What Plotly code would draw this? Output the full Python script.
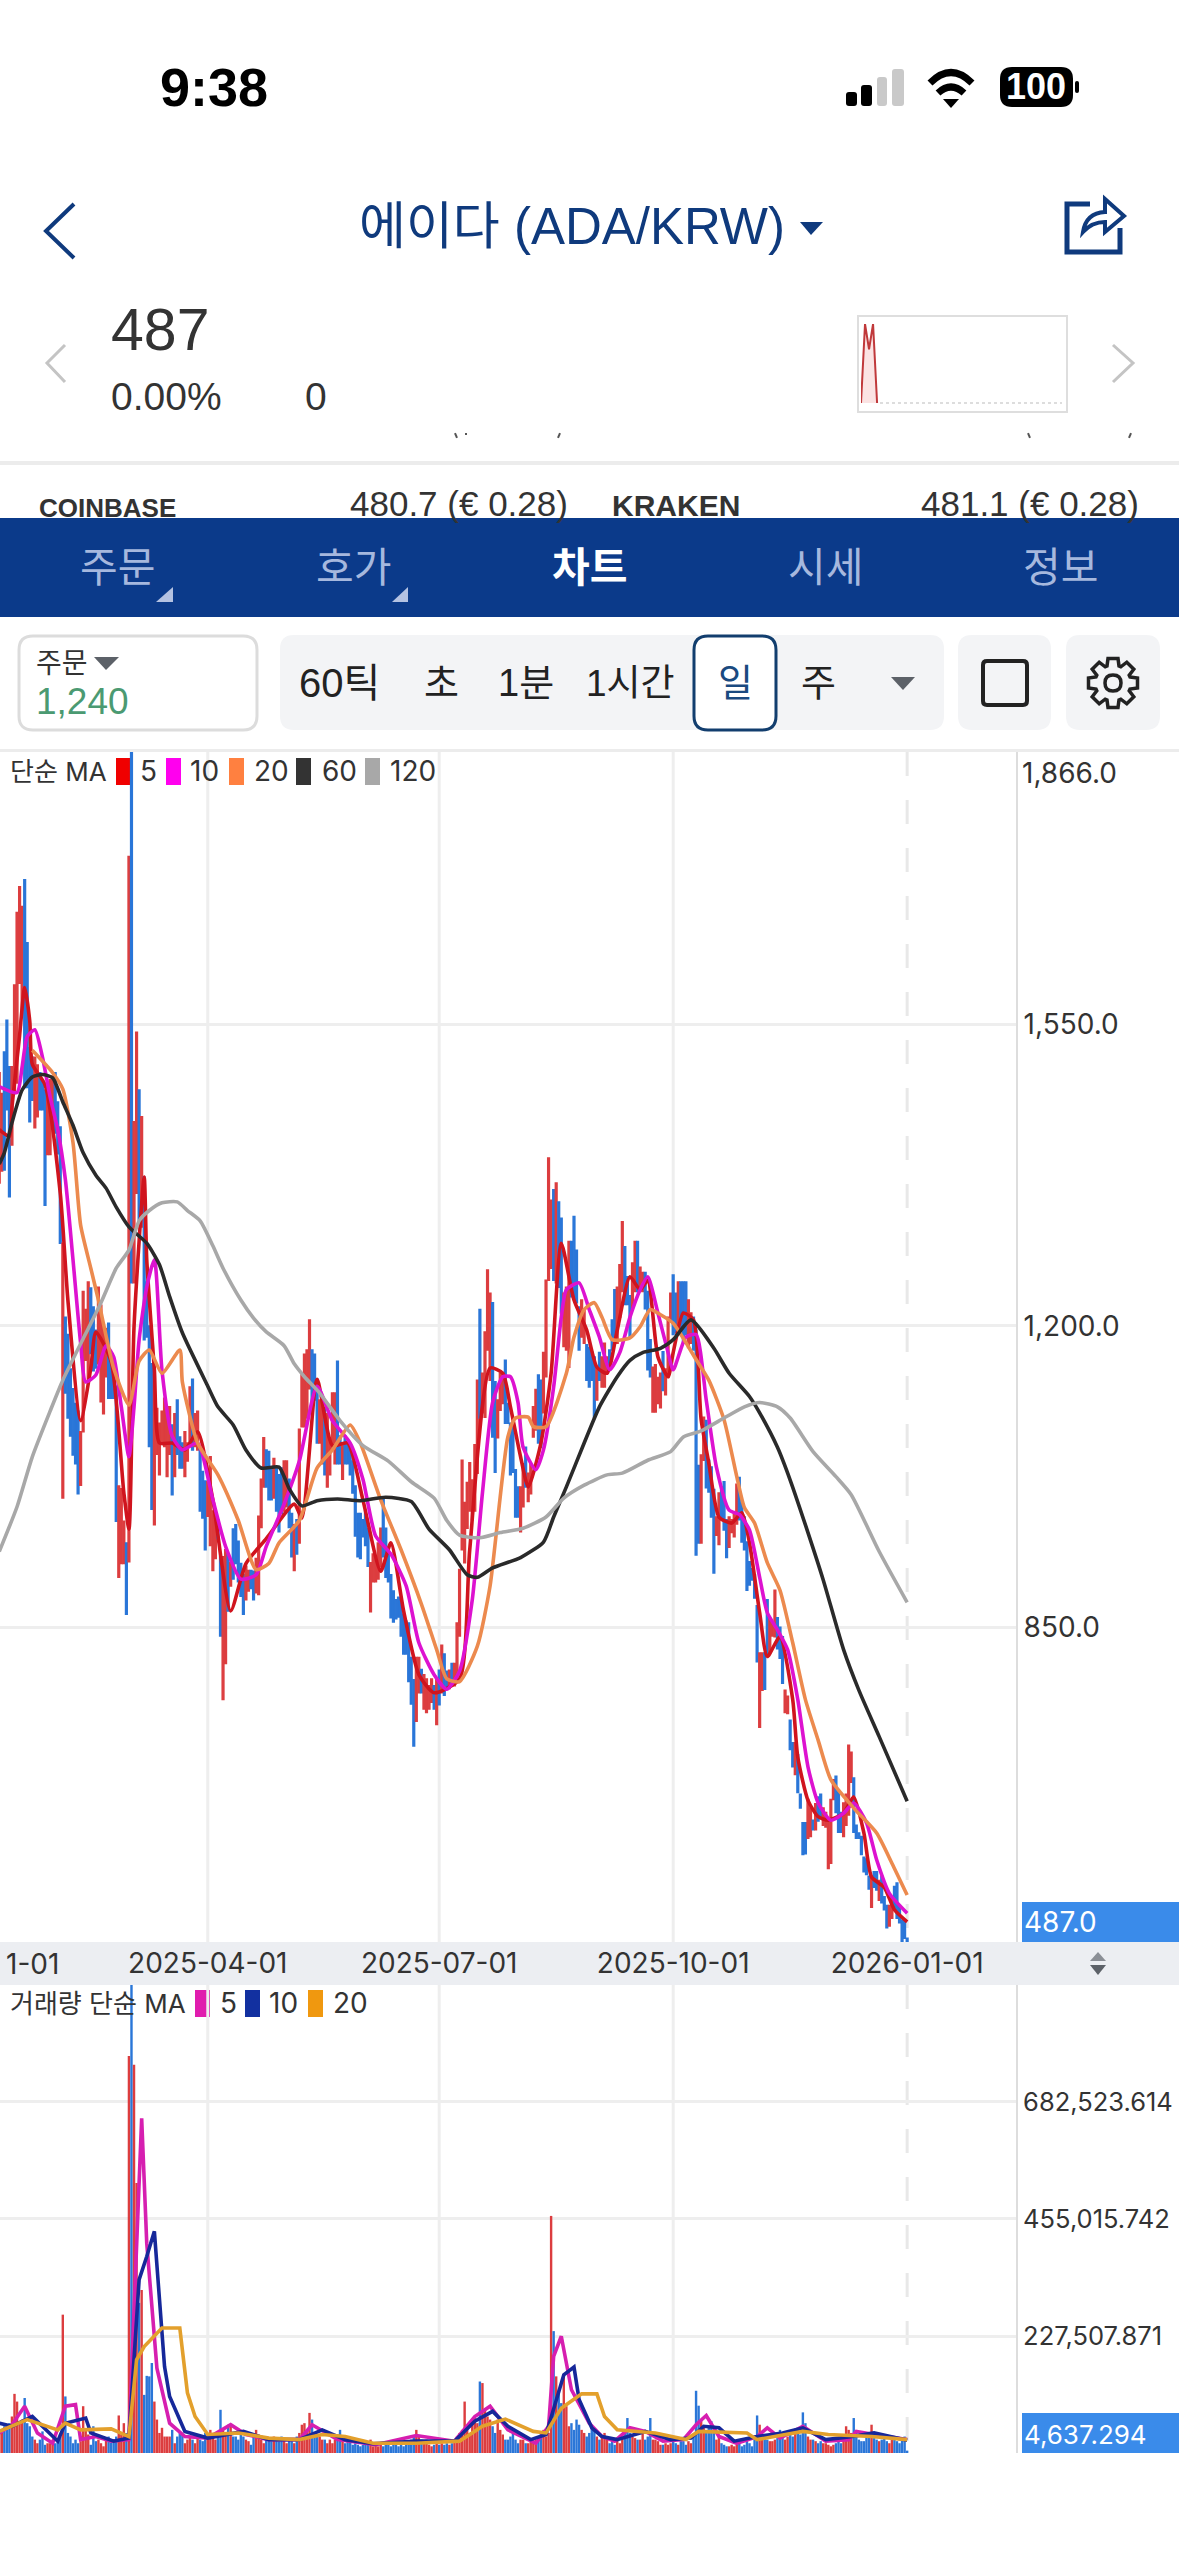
import math
import re

import numpy as np
import pandas as pd
import plotly.graph_objects as go

W, H = 1179, 2556

# Daily bars, 2025-01-09 to 2026-01-01 (one row = 10 days)
highs = [
    1494, 1470, 1518, 1555, 1501, 1501, 1596, 1680, 1710, 1687,
    1718, 1645, 1523, 1512, 1512, 1503, 1494, 1486, 1474, 1470,
    1486, 1490, 1494, 1460, 1431, 1296, 1210, 1190, 1150, 1127,
    1110, 1101, 1077, 1240, 1219, 1251, 1244, 1222, 1195, 1245,
    1224, 1199, 1197, 1203, 1159, 1156, 1130, 1014, 1011, 973,
    948, 1745, 1868, 1437, 1541, 1474, 1443, 1373, 1251, 1200,
    1156, 1143, 1104, 1087, 1101, 1116, 1098, 1106, 1085, 1098,
    1114, 1071, 1064, 1077, 1064, 1129, 1138, 1098, 1101, 1060,
    1031, 1020, 1019, 1048, 985, 982, 975, 932, 932, 940,
    935, 925, 964, 969, 950, 924, 911, 921, 916, 916,
    915, 930, 979, 1022, 1070, 1056, 1054, 1035, 1046, 1035,
    1027, 1035, 1043, 1043, 1022, 982, 969, 975, 1080, 1143,
    1167, 1172, 1207, 1172, 1167, 1138, 1114, 1110, 1105, 1098,
    1064, 1122, 1122, 1159, 1072, 1064, 1072, 1064, 1056, 1043,
    1014, 982, 982, 975, 985, 965, 925, 935, 930, 948,
    965, 1000, 965, 940, 911, 892, 882, 885, 882, 865,
    857, 855, 815, 789, 815, 815, 801, 795, 790, 782,
    790, 782, 790, 800, 829, 819, 799, 800, 808, 808,
    855, 917, 1044, 995, 1018, 1041, 1021, 1062, 1137, 1219,
    1145, 1193, 1265, 1238, 1227, 1135, 1114, 1145, 1145, 1160,
    1110, 1087, 1083, 1033, 1013, 1013, 1040, 1059, 1029, 1040,
    1106, 1126, 1143, 1137, 1169, 1253, 1395, 1346, 1358, 1366,
    1344, 1325, 1238, 1245, 1298, 1298, 1327, 1288, 1222, 1230,
    1220, 1178, 1175, 1170, 1164, 1150, 1169, 1164, 1180, 1164,
    1172, 1207, 1242, 1245, 1271, 1321, 1292, 1257, 1235, 1273,
    1298, 1298, 1268, 1262, 1262, 1240, 1184, 1152, 1155, 1140,
    1145, 1170, 1150, 1210, 1238, 1259, 1238, 1251, 1251, 1251,
    1251, 1230, 1215, 1210, 1195, 1038, 1050, 1094, 1090, 1044,
    1036, 1010, 978, 1006, 1013, 1019, 975, 978, 975, 984,
    1016, 1024, 994, 978, 949, 926, 918, 911, 875, 820,
    820, 820, 882, 860, 855, 893, 861, 850, 839, 777,
    770, 742, 716, 716, 702, 656, 623, 623, 650, 640,
    626, 645, 653, 656, 640, 635, 626, 650, 673, 677,
    659, 635, 646, 656, 713, 705, 675, 620, 611, 607,
    583, 581, 561, 561, 566, 566, 556, 561, 537, 527,
    527, 537, 549, 553, 527, 510, 510, 489,
]
lows = [
    1366, 1380, 1381, 1451, 1350, 1410, 1470, 1482, 1598, 1567,
    1477, 1477, 1437, 1462, 1430, 1443, 1451, 1451, 1340, 1399,
    1399, 1435, 1424, 1400, 1296, 1000, 1122, 1093, 1072, 1050,
    1040, 1005, 1015, 1077, 1160, 1135, 1168, 1148, 1151, 1156,
    1112, 1098, 1141, 1116, 1116, 1116, 973, 908, 924, 924,
    865, 926, 1250, 1250, 1354, 1323, 1315, 1184, 1187, 1060,
    987, 969, 1051, 1027, 1064, 1060, 1025, 1051, 1004, 1025,
    1051, 1035, 1035, 1025, 1043, 1064, 1056, 1060, 1056, 985,
    977, 940, 979, 945, 916, 930, 953, 840, 766, 808,
    869, 898, 906, 924, 903, 886, 865, 882, 892, 895,
    882, 890, 888, 966, 1013, 1013, 998, 998, 1000, 985,
    961, 982, 985, 990, 966, 932, 916, 935, 948, 1083,
    1083, 1093, 1127, 1098, 1114, 1064, 1064, 1040, 1027, 1013,
    1027, 1056, 1040, 1040, 1040, 1022, 1040, 1040, 1027, 1006,
    956, 932, 930, 955, 945, 921, 868, 903, 903, 906,
    920, 932, 908, 903, 861, 856, 860, 862, 840, 819,
    819, 787, 761, 712, 741, 774, 774, 755, 751, 755,
    763, 755, 737, 760, 774, 771, 779, 779, 785, 782,
    787, 840, 940, 925, 965, 985, 975, 985, 1029, 1093,
    1099, 1094, 1172, 1137, 1071, 1030, 1070, 1102, 1110, 1087,
    1087, 1027, 1030, 978, 978, 961, 990, 1013, 996, 1005,
    1071, 1079, 1064, 1059, 1099, 1141, 1253, 1267, 1253, 1250,
    1245, 1215, 1176, 1172, 1152, 1234, 1234, 1227, 1172, 1187,
    1180, 1137, 1129, 1137, 1094, 1114, 1137, 1129, 1129, 1145,
    1149, 1172, 1187, 1180, 1210, 1240, 1225, 1225, 1187, 1220,
    1240, 1240, 1245, 1240, 1220, 1149, 1141, 1100, 1100, 1110,
    1105, 1125, 1120, 1140, 1207, 1190, 1192, 1190, 1195, 1180,
    1190, 1175, 1180, 1172, 934, 948, 948, 1044, 1012, 1007,
    978, 913, 957, 946, 977, 963, 931, 943, 960, 955,
    970, 975, 949, 940, 893, 899, 905, 884, 810, 734,
    777, 778, 818, 820, 840, 839, 825, 814, 785, 751,
    750, 708, 688, 679, 658, 640, 586, 587, 605, 607,
    615, 615, 625, 630, 620, 618, 570, 576, 650, 635,
    612, 612, 607, 620, 632, 670, 612, 605, 605, 586,
    566, 563, 546, 525, 548, 545, 533, 530, 522, 501,
    503, 512, 524, 512, 507, 485, 489, 485,
]
# R = rising (red), B = falling (blue)
bar_dirs = (
    "RRBBBRRRRR" "BBBBRRBBBR" "RRBBBRBBBB" "BBRRRRBBBR" "RRRBBBBRRR"
    "BRBRRBRBBB" "BRRRRRRRBR" "BBBRRRBRRB" "BBRRRRBBRR" "BRBBBBBRRB"
    "BRRRRBBBRB" "BBRRBBRBRR" "RRRBBBRRBR" "RRRBBRBBBB" "BBBBBBRRRR"
    "RBBBBBBBBB" "BBBBRRBRRR" "RBRBRBBRBR" "RRRRRRRRRB" "RRRRBBRRRB"
    "BBBBBRRBRR" "RRBBRRRRBR" "BBRRRBBBBR" "RBBBBRBRRR" "BBBRRRBBBR"
    "RBRRBBBRRR" "RBRRRBBRBB" "BRRBBBRRBB" "BBRRBBBRRR" "RBBBBBBBBR"
    "RBBRRRBBBR" "RBBRBBBBRR" "BRBBRRRRRB" "BBRRRRBBBB" "BBBRBBRBBB"
    "RRBBBBBB"
)
# volume in thousands, same days as the bars
vol_k = [
    45, 39, 52, 45, 58, 71, 115, 100, 58, 65,
    107, 58, 52, 32, 26, 19, 26, 42, 16, 19,
    19, 26, 19, 23, 32, 269, 110, 39, 32, 19,
    26, 19, 23, 91, 45, 36, 16, 52, 23, 26,
    19, 13, 26, 32, 20, 26, 32, 73, 36, 58,
    39, 772, 1150, 755, 525, 292, 317, 113, 150, 149,
    175, 100, 65, 39, 49, 32, 32, 32, 45, 19,
    32, 39, 36, 19, 26, 32, 26, 19, 32, 26,
    23, 39, 26, 45, 32, 26, 39, 84, 45, 39,
    55, 52, 32, 32, 26, 39, 32, 26, 23, 16,
    32, 45, 36, 26, 19, 32, 26, 23, 32, 26,
    23, 32, 26, 19, 26, 23, 19, 32, 39, 55,
    58, 45, 78, 65, 36, 32, 32, 26, 26, 19,
    26, 19, 26, 36, 45, 32, 19, 26, 23, 16,
    19, 16, 13, 16, 16, 19, 26, 13, 16, 13,
    16, 13, 16, 16, 13, 19, 16, 13, 16, 13,
    16, 19, 26, 32, 45, 32, 26, 19, 26, 16,
    13, 16, 19, 16, 19, 16, 19, 16, 19, 26,
    32, 39, 45, 100, 52, 39, 65, 71, 58, 139,
    136, 84, 71, 65, 52, 39, 65, 45, 36, 26,
    26, 32, 39, 26, 19, 26, 26, 19, 19, 23,
    23, 26, 26, 39, 45, 32, 39, 461, 237, 149,
    123, 97, 149, 91, 52, 58, 45, 65, 55, 45,
    39, 32, 39, 52, 45, 32, 26, 32, 39, 26,
    19, 23, 16, 26, 19, 26, 39, 68, 39, 32,
    29, 26, 26, 39, 26, 32, 68, 26, 26, 23,
    16, 16, 19, 16, 19, 26, 19, 16, 23, 23,
    16, 23, 19, 32, 121, 92, 65, 52, 39, 52,
    62, 39, 26, 32, 19, 16, 13, 13, 16, 13,
    16, 19, 13, 16, 26, 19, 13, 26, 73, 55,
    32, 29, 26, 23, 23, 26, 29, 45, 32, 26,
    32, 42, 32, 42, 45, 36, 79, 58, 32, 26,
    26, 23, 19, 23, 19, 19, 16, 13, 16, 19,
    26, 19, 29, 52, 45, 39, 68, 39, 26, 23,
    23, 32, 39, 55, 29, 26, 23, 26, 29, 23,
    19, 26, 29, 23, 19, 26, 32, 4.637,
]

# Moving averages: day number since 2025-01-09, value
ma5_days = [0, 4, 5, 8, 10, 12, 13, 18, 24, 27, 32, 36, 38, 44, 49, 51, 53, 57, 58, 61, 63, 68, 73, 78, 84,
            91, 97, 105, 116, 119, 125, 131, 137, 143, 150, 154, 159, 165, 171, 181, 185, 193, 198, 201,
            205, 208, 213, 217, 221, 226, 231, 235, 239, 243, 248, 252, 255, 259, 263, 265, 269, 273, 276,
            279, 283, 288, 292, 295, 299, 302, 307, 312, 314, 318, 322, 326, 332, 336, 340, 343, 348, 352, 357]
ma5_vals = [1428, 1420, 1454, 1537, 1593, 1554, 1504, 1480, 1354, 1230, 1090, 1151, 1193, 1159, 1006, 964, 1199, 1373, 1277, 1149, 1064, 1064, 1056, 1077, 998,
            869, 924, 953, 993, 977, 1138, 1061, 1064, 998, 915, 948, 869, 795, 774, 790, 940, 1151, 1145, 1106,
            1048, 1013, 1064, 1145, 1296, 1230, 1195, 1152, 1145, 1195, 1257, 1242, 1253, 1164, 1141, 1169, 1215, 1207, 1091,
            1041, 978, 971, 983, 948, 867, 816, 839, 766, 699, 649, 630, 626, 634, 653, 611, 560, 548, 522, 508]
ma10_days = [0, 7, 9, 11, 14, 17, 20, 23, 26, 29, 32, 34, 38, 42, 45, 48, 51, 53, 55, 58, 61, 64, 68, 72, 78, 84,
             89, 95, 101, 105, 112, 118, 125, 131, 138, 143, 148, 154, 160, 165, 171, 176, 181, 186, 190, 194,
             198, 201, 204, 206, 211, 214, 218, 221, 223, 228, 232, 236, 240, 244, 248, 252, 255, 259, 263, 265,
             270, 274, 278, 282, 287, 291, 295, 299, 302, 306, 310, 314, 318, 322, 327, 332, 336, 341, 345, 350, 357]
ma10_vals = [1478, 1471, 1501, 1536, 1544, 1512, 1466, 1428, 1370, 1277, 1180, 1135, 1143, 1177, 1164, 1106, 1048, 1106, 1184, 1245, 1277, 1148, 1072, 1056, 1064, 998,
             944, 906, 911, 944, 993, 1043, 1130, 1090, 1064, 1022, 956, 935, 898, 832, 795, 778, 799, 882, 1006, 1111,
             1141, 1141, 1111, 1059, 1033, 1056, 1129, 1210, 1242, 1250, 1219, 1187, 1149, 1169, 1210, 1242, 1257, 1215, 1169, 1149,
             1187, 1190, 1114, 1036, 986, 981, 963, 908, 867, 847, 824, 766, 688, 646, 626, 634, 646, 623, 580, 541, 518]
ma20_days = [13, 21, 25, 29, 32, 36, 39, 45, 51, 55, 59, 64, 71, 72, 78, 86, 94, 101, 106, 110, 118, 125, 131, 138, 142,
             150, 158, 166, 172, 176, 181, 188, 193, 200, 203, 208, 210, 215, 223, 226, 230, 234, 237, 241, 248, 252,
             256, 260, 265, 274, 279, 285, 290, 293, 297, 302, 307, 312, 317, 322, 327, 336, 345, 351, 357]
ma20_vals = [1520, 1494, 1475, 1413, 1317, 1267, 1230, 1151, 1108, 1159, 1172, 1145, 1172, 1135, 1064, 1027, 974, 917, 924, 948, 974, 1035, 1056, 1085, 1064,
             998, 940, 877, 824, 790, 787, 828, 898, 1071, 1093, 1094, 1083, 1083, 1145, 1187, 1219, 1227, 1210, 1184, 1186, 1199,
             1219, 1213, 1203, 1161, 1137, 1091, 1025, 989, 971, 925, 893, 832, 766, 719, 673, 640, 611, 576, 539]
ma60_days = [0, 2, 5, 9, 13, 17, 21, 25, 29, 33, 38, 42, 46, 51, 58, 63, 67, 72, 82, 86, 92, 97, 103, 110, 114, 119,
             125, 133, 142, 152, 162, 169, 177, 184, 188, 194, 205, 214, 218, 223, 230, 236, 243, 248, 253, 260,
             265, 272, 281, 287, 295, 299, 306, 311, 318, 324, 332, 338, 346, 357]
ma60_vals = [1388, 1401, 1436, 1474, 1489, 1492, 1488, 1460, 1433, 1401, 1375, 1360, 1338, 1315, 1296, 1271, 1234, 1192, 1130, 1106, 1085, 1056, 1035, 1036, 1011, 991,
             997, 999, 997, 1001, 996, 964, 940, 911, 908, 919, 931, 949, 978, 1013, 1064, 1106, 1141, 1160, 1169, 1174,
             1184, 1207, 1174, 1145, 1118, 1099, 1059, 1021, 960, 905, 824, 777, 723, 648]
ma120_days = [0, 7, 13, 20, 25, 40, 46, 51, 55, 59, 64, 70, 74, 79, 84, 88, 95, 100, 105, 112, 116, 120, 126, 134, 143,
              153, 162, 171, 176, 181, 189, 197, 206, 215, 222, 230, 239, 245, 255, 264, 269, 276, 285, 293, 299,
              306, 311, 320, 329, 335, 346, 357]
ma120_vals = [938, 990, 1048, 1101, 1137, 1227, 1267, 1288, 1322, 1334, 1343, 1344, 1334, 1322, 1293, 1267, 1230, 1209, 1193, 1177, 1156, 1141, 1122, 1090, 1061,
              1043, 1019, 1000, 974, 957, 954, 960, 965, 978, 1000, 1015, 1027, 1029, 1044, 1054, 1071, 1078, 1093, 1106, 1111,
              1106, 1093, 1054, 1025, 1004, 938, 879]

# Volume moving averages, in thousands
vma5_days = [0, 5, 10, 15, 21, 26, 30, 32, 38, 44, 51, 56, 58, 62, 67, 73, 82, 91, 97, 106, 118, 123, 133, 148, 164,
             179, 187, 193, 200, 211, 216, 218, 221, 225, 232, 237, 242, 248, 254, 261, 269, 274, 278, 283, 290,
             298, 302, 307, 316, 325, 334, 337, 344, 357]
vma5_vals = [39, 55, 91, 39, 19, 91, 94, 26, 32, 23, 26, 651, 408, 165, 58, 32, 29, 55, 36, 26, 26, 55, 26, 16, 34,
             23, 71, 91, 45, 19, 52, 188, 227, 123, 58, 32, 23, 49, 42, 23, 26, 55, 73, 32, 19,
             32, 49, 29, 52, 23, 26, 42, 36, 26]
vma10_days = [0, 5, 13, 23, 26, 34, 36, 45, 51, 55, 58, 61, 65, 67, 73, 82, 96, 106, 118, 127, 136, 147, 164, 179, 187,
              194, 200, 209, 215, 218, 222, 226, 228, 233, 237, 243, 254, 264, 272, 277, 283, 289, 298, 308, 316,
              325, 334, 344, 357]
vma10_vals = [58, 52, 71, 23, 58, 68, 39, 23, 29, 337, 382, 431, 168, 110, 42, 29, 42, 26, 26, 45, 26, 18, 23, 23, 62,
              81, 52, 26, 36, 84, 152, 167, 104, 49, 32, 26, 42, 26, 29, 52, 49, 23, 32, 39, 49,
              26, 31, 39, 25]
vma20_days = [0, 11, 23, 26, 32, 44, 51, 54, 57, 64, 71, 74, 77, 82, 94, 106, 118, 127, 136, 147, 164, 181, 190, 199,
              210, 215, 221, 229, 235, 238, 243, 258, 270, 275, 294, 298, 316, 326, 343, 357]
vma20_vals = [42, 65, 45, 58, 45, 47, 32, 181, 207, 243, 243, 117, 71, 36, 39, 29, 26, 36, 32, 19, 19, 23, 52, 66,
              42, 39, 87, 115, 115, 71, 45, 39, 26, 42, 39, 26, 42, 36, 32, 26]

price_ticks = [1550, 1200, 850]
price_tick_labels = ["1,550.0", "1,200.0", "850.0"]
volume_ticks = [227507.871, 455015.742, 682523.614]
volume_tick_labels = ["227,507.871", "455,015.742", "682,523.614"]
date_ticks = ["2025-04-01", "2025-07-01", "2025-10-01", "2026-01-01"]

dates = pd.date_range("2025-01-09", periods=len(highs), freq="D")
opens = [lo if d == "R" else hi for hi, lo, d in zip(highs, lows, bar_dirs)]
closes = [hi if d == "R" else lo for hi, lo, d in zip(highs, lows, bar_dirs)]
volumes = np.array(vol_k) * 1000
RED, BLUE = "#dc3d3f", "#2a76d8"
NAVY = "#0f3a7d"
CHART_FONT = "Inter, Noto Sans CJK KR"
UI_FONT = "Liberation Sans, Noto Sans CJK KR"


def py(y):
    return 1 - y / H


shapes = []
notes = []


def to_paper(cmds):
    # path written in screen pixels -> paper coordinates
    out, is_x = [], True
    for tok in re.findall(r"[A-Za-z]|-?[\d.]+", cmds):
        if tok.isalpha():
            out.append(tok)
            is_x = True
        else:
            out.append(f"{float(tok) / W:.5f}" if is_x else f"{py(float(tok)):.5f}")
            is_x = not is_x
    return " ".join(out)


def draw(cmds, fill=None, color=None, lw=0, layer="above", dash=None):
    shapes.append(dict(type="path", path=to_paper(cmds), xref="paper", yref="paper", layer=layer,
                       fillcolor=fill or "rgba(0,0,0,0)",
                       line=dict(color=color or "rgba(0,0,0,0)", width=lw, dash=dash)))


def box(x0, y0, x1, y1, fill=None, color=None, lw=0, r=0, layer="above"):
    if r:
        draw(f"M {x0 + r} {y0} L {x1 - r} {y0} Q {x1} {y0} {x1} {y0 + r} L {x1} {y1 - r} Q {x1} {y1} {x1 - r} {y1} "
             f"L {x0 + r} {y1} Q {x0} {y1} {x0} {y1 - r} L {x0} {y0 + r} Q {x0} {y0} {x0 + r} {y0} Z",
             fill, color, lw, layer)
    else:
        draw(f"M {x0} {y0} L {x1} {y0} L {x1} {y1} L {x0} {y1} Z", fill, color, lw, layer)


def text(x, y, s, size, color="#333333", anchor="left", font=UI_FONT):
    notes.append(dict(x=x / W, y=py(y), xref="paper", yref="paper", text=s, showarrow=False,
                      xanchor=anchor, yanchor="middle", font=dict(size=size, color=color, family=font),
                      borderpad=0, borderwidth=0))


# status bar
text(160, 87, "<b>9:38</b>", 54, "#000000")
box(846, 92, 857, 106, "#000000", r=3)
box(861, 85, 872, 106, "#000000", r=3)
box(877, 77, 887, 106, "#c9c9c9", r=3)
box(892, 69, 904, 106, "#c9c9c9", r=3)
draw("M 930 83 Q 951 62 972 83", color="#000000", lw=7)
draw("M 938 93 Q 951 81 964 93", color="#000000", lw=7)
draw("M 943 99 L 959 99 L 951 108 Z", fill="#000000")
box(1000, 67, 1073, 107, "#000000", r=12)
box(1075, 81, 1079, 93, "#000000", r=2)
text(1036, 87, "<b>100</b>", 36, "#ffffff", "center")

# title row
draw("M 74 204 L 46 231 L 74 258", color=NAVY, lw=4)
text(359, 226, "에이다 (ADA/KRW)", 51, NAVY)
draw("M 800 222 L 823 222 L 811 235 Z", fill=NAVY)
draw("M 1090 204 L 1067 204 L 1067 252 L 1120 252 L 1120 228", color=NAVY, lw=5)
draw("M 1083 232 Q 1086 213 1105 212 L 1105 199 L 1124 216 L 1105 232 L 1105 222 Q 1092 222 1083 232 Z", color=NAVY, lw=4)

# quote row
draw("M 65 345 L 47 363 L 65 382", color="#c4c4c4", lw=3)
draw("M 1113 345 L 1133 363 L 1113 382", color="#c4c4c4", lw=3)
text(111, 330, "487", 59)
text(111, 396, "0.00%", 39)
text(305, 396, "0", 39)
box(858, 316, 1067, 412, "#ffffff", "#dedede", 2, layer="below")
draw("M 880 403 L 1062 403", color="#dddddd", lw=2, dash="dot")
for mark in ["M 455 433 L 457 438", "M 466 433 L 466 435", "M 560 433 L 558 438", "M 1028 433 L 1030 438", "M 1131 433 L 1129 438"]:
    draw(mark, color="#555555", lw=2)
box(0, 461, W, 465, "#ececec")
text(39, 508, "<b>COINBASE</b>", 26)
text(568, 503, "480.7 (€ 0.28)", 35, anchor="right")
text(612, 506, "<b>KRAKEN</b>", 30)
text(1139, 503, "481.1 (€ 0.28)", 35, anchor="right")

# tab band
box(0, 518, W, 617, "#0b3a8a")
for cx, tab in [(117, "주문"), (353, "호가"), (825, "시세"), (1060, "정보")]:
    text(cx, 568, tab, 41, "#a6b8de", "center")
text(589, 568, "<b>차트</b>", 41, "#ffffff", "center")
draw("M 173 587 L 173 602 L 156 602 Z", fill="#b4c2e2")
draw("M 408 587 L 408 602 L 392 602 Z", fill="#b4c2e2")

# toolbar
box(19, 636, 257, 730, "#ffffff", "#dcdcdc", 3, 14)
text(36, 664, "주문", 28, "#333333")
draw("M 94 657 L 119 657 L 106 670 Z", fill="#5c6168")
text(36, 701, "1,240", 37, "#4b9a72")
box(280, 635, 944, 730, "#f3f4f6", r=14)
for cx, lab, size in [(339, "60틱", 40), (441, "초", 38), (526, "1분", 38), (630, "1시간", 37), (818, "주", 38)]:
    text(cx, 683, lab, size, "#222222", "center")
box(694, 636, 776, 730, "#ffffff", "#123e6e", 3, 14)
text(735, 683, "일", 38, "#1a4a80", "center")
draw("M 891 677 L 915 677 L 903 690 Z", fill="#5c6168")
box(958, 635, 1051, 730, "#f3f4f6", r=14)
box(983, 661, 1027, 705, None, "#222222", 4, 4)
box(1066, 635, 1160, 730, "#f3f4f6", r=14)
gear = []
for t in range(8):
    mid = t * math.pi / 4
    for r, off in [(18, -0.34), (25, -0.2), (25, 0.2), (18, 0.34)]:
        gear.append(f"{1113 + r * math.cos(mid + off):.1f} {683 + r * math.sin(mid + off):.1f}")
draw("M " + " L ".join(gear) + " Z", color="#222222", lw=3.5)
draw("M 1105 683 Q 1105 675 1113 675 Q 1121 675 1121 683 Q 1121 691 1113 691 Q 1105 691 1105 683 Z", color="#222222", lw=3.5)

# chart frame
box(0, 749, W, 752, "#ececec", layer="below")
box(0, 1942, W, 1985, "#eceef2", layer="below")
draw("M 1098 1952 L 1106 1961 L 1090 1961 Z", fill="#8b8f96")
draw("M 1090 1965 L 1106 1965 L 1098 1975 Z", fill="#5c6168")
text(59, 1964, "1-01", 28, "#333333", "right", CHART_FONT)

# price legend
text(10, 771, "단순 MA", 26, "#333333", font=CHART_FONT)
for x0, col, x_lab, lab in [(116, "#f00000", 140, "5"), (166, "#ff00ee", 190, "10"), (229, "#ff8040", 254, "20"),
                            (296, "#333333", 322, "60"), (365, "#a8a8a8", 390, "120")]:
    box(x0, 758, x0 + 15, 785, col, layer="below")
    text(x_lab, 771, lab, 28, "#333333", font=CHART_FONT)
text(1022, 773, "1,866.0", 28, "#333333", font=CHART_FONT)
box(1022, 1902, W, 1942, "#3a8bea")
text(1024, 1922, "487.0", 28, "#ffffff", font=CHART_FONT)

# volume legend
text(10, 2003, "거래량 단순 MA", 26, "#333333", font=CHART_FONT)
for x0, col, x_lab, lab in [(195, "#e01cae", 220, "5"), (245, "#1230a0", 269, "10"), (308, "#f0980f", 333, "20")]:
    box(x0, 1990, x0 + 15, 2017, col, layer="below")
    text(x_lab, 2003, lab, 28, "#333333", font=CHART_FONT)
box(1022, 2413, W, 2453, "#3a8bea")
text(1024, 2434, "4,637.294", 26, "#ffffff", font=CHART_FONT)

# month grid lines, the last one dashed
for i, day in enumerate(date_ticks):
    for y0, y1 in [(752, 1942), (1985, 2453)]:
        shapes.append(dict(type="line", xref="x", yref="paper", x0=day, x1=day, y0=py(y0), y1=py(y1), layer="below",
                           line=dict(color="#eeeeee" if i < 3 else "#e8e8e8", width=3,
                                     dash="solid" if i < 3 else "24px,24px")))

fig = go.Figure()
fig.add_trace(go.Candlestick(
    x=dates, open=opens, high=highs, low=lows, close=closes, xaxis="x", yaxis="y",
    increasing=dict(line=dict(color=RED, width=1.5), fillcolor=RED),
    decreasing=dict(line=dict(color=BLUE, width=1.5), fillcolor=BLUE),
    whiskerwidth=0, showlegend=False))

for days, vals, col in [(ma5_days, ma5_vals, "#d0141e"), (ma10_days, ma10_vals, "#dd12d0"), (ma20_days, ma20_vals, "#ec8a4e"),
                        (ma60_days, ma60_vals, "#2a2a2a"), (ma120_days, ma120_vals, "#a8a8a8")]:
    fig.add_trace(go.Scatter(x=dates[days], y=vals, mode="lines", xaxis="x", yaxis="y", showlegend=False,
                             line=dict(color=col, width=3.6, shape="spline", smoothing=0.6)))

fig.add_trace(go.Bar(x=dates, y=volumes, xaxis="x2", yaxis="y2", showlegend=False,
                     marker=dict(color=[RED if d == "R" else BLUE for d in bar_dirs], line=dict(width=0))))
for days, vals, col in [(vma5_days, vma5_vals, "#d61fb0"), (vma10_days, vma10_vals, "#16289a"), (vma20_days, vma20_vals, "#e3a02c")]:
    fig.add_trace(go.Scatter(x=dates[days], y=np.array(vals) * 1000, mode="lines", xaxis="x2", yaxis="y2",
                             showlegend=False, line=dict(color=col, width=3.6)))

# little sparkline of the quote row
spark_x = [0, 1, 2, 3, 4]
spark_y = [0, 100, 68, 100, 0]
fig.add_trace(go.Scatter(x=spark_x, y=spark_y, mode="lines", xaxis="x3", yaxis="y3", showlegend=False,
                         fill="tozeroy", fillcolor="#fbe3e3", line=dict(color="#c0393b", width=2)))

x_range = ["2025-01-09 07:12", "2026-02-12 19:12"]
plot_end = 1016 / W
fig.update_layout(
    width=W, height=H, margin=dict(l=0, r=0, t=0, b=0, pad=0), autosize=False,
    paper_bgcolor="#ffffff", plot_bgcolor="#ffffff",
    boxgap=0.05, bargap=0.05, showlegend=False, hovermode=False,
    shapes=shapes, annotations=notes,
    xaxis=dict(domain=[0, plot_end], range=x_range, type="date", anchor="y", showgrid=False, zeroline=False,
               tickmode="array", tickvals=date_ticks, ticktext=date_ticks, ticks="", ticklabelstandoff=2,
               tickfont=dict(size=28, color="#333333", family=CHART_FONT),
               rangeslider=dict(visible=False)),
    yaxis=dict(domain=[py(1942), py(752)], range=[484.5, 1866.5], side="right", anchor="x",
               tickmode="array", tickvals=price_ticks, ticktext=price_tick_labels,
               gridcolor="#eeeeee", gridwidth=3, zeroline=False, showline=True, linecolor="#dddddd", linewidth=2,
               ticks="", tickfont=dict(size=28, color="#333333", family=CHART_FONT)),
    xaxis2=dict(domain=[0, plot_end], range=x_range, type="date", anchor="y2", showgrid=False, zeroline=False,
                showticklabels=False, ticks=""),
    yaxis2=dict(domain=[py(2453), py(1985)], range=[0, 910000], side="right", anchor="x2",
                tickmode="array", tickvals=volume_ticks, ticktext=volume_tick_labels,
                gridcolor="#eeeeee", gridwidth=3, zeroline=False, showline=True, linecolor="#dddddd", linewidth=2,
                ticks="", tickfont=dict(size=25.5, color="#333333", family=CHART_FONT)),
    xaxis3=dict(domain=[861 / W, 1062 / W], range=[0, 50], anchor="y3", visible=False),
    yaxis3=dict(domain=[py(403), py(324)], range=[0, 100], anchor="x3", visible=False),
)

fig.write_html("out.html", config=dict(displayModeBar=False),
               post_script="document.body.style.margin='0';document.body.style.overflow='hidden';")
